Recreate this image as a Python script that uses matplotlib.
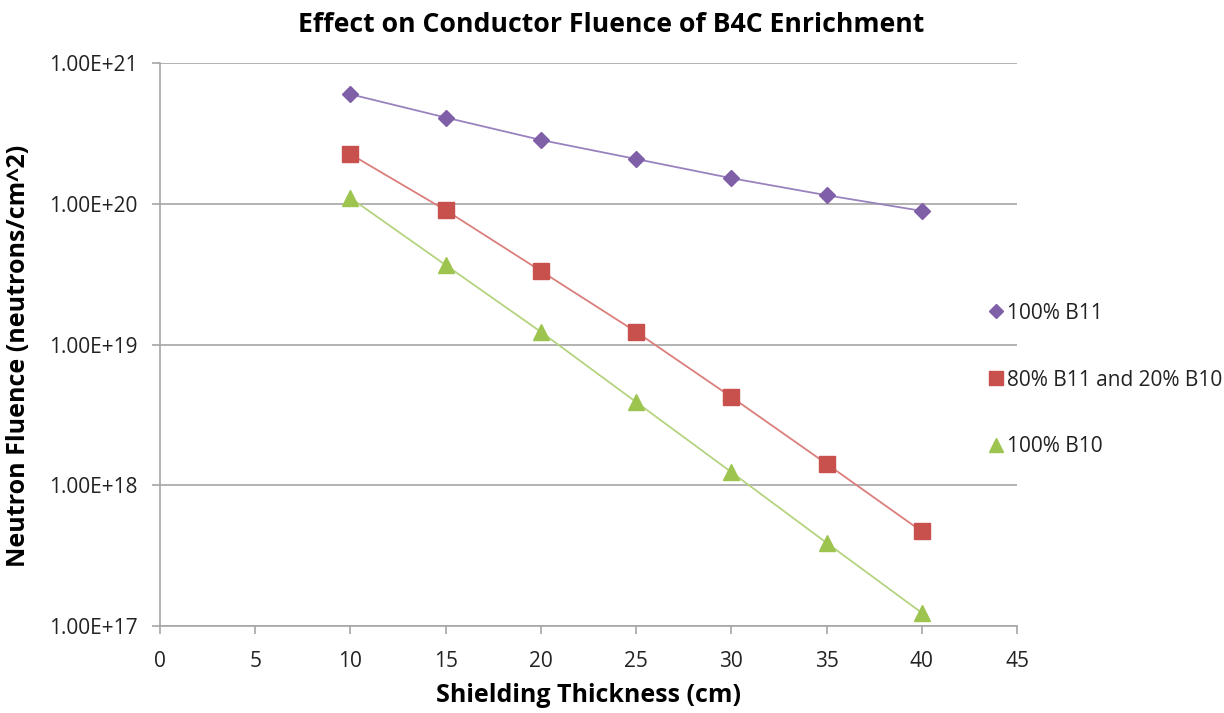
import numpy as np
import matplotlib
matplotlib.use("Agg")
import matplotlib.pyplot as plt
from matplotlib.lines import Line2D
from matplotlib.ticker import FixedLocator, FuncFormatter, NullLocator

plt.rcParams["font.family"] = ["Open Sans", "DejaVu Sans"]

# Shielding thickness (cm) and neutron fluence (neutrons/cm^2) per enrichment
thickness = [10, 15, 20, 25, 30, 35, 40]
fluence_b11 = [6.0e20, 4.1e20, 2.84e20, 2.08e20, 1.52e20, 1.15e20, 8.9e19]
fluence_mix = [2.25e20, 9.0e19, 3.33e19, 1.23e19, 4.24e18, 1.42e18, 4.7e17]
fluence_b10 = [1.1e20, 3.67e19, 1.23e19, 3.9e18, 1.24e18, 3.9e17, 1.24e17]

series_labels = ["100% B11", "80% B11 and 20% B10", "100% B10"]
series_colors = ["#7F5FA8", "#C8504D", "#9DC44F"]
line_colors = ["#9A82BF", "#DB7E7C", "#B4D47F"]
series_markers = ["D", "s", "^"]
marker_sizes = [8, 11, 11]

GRAY = "#A6A6A6"

fig = plt.figure(figsize=(12.24, 7.13), dpi=100)
ax = fig.add_axes([0.1307, 0.122, 0.7002, 0.7896])

for y, lc, mc, m, ms in zip([fluence_b11, fluence_mix, fluence_b10],
                            line_colors, series_colors, series_markers, marker_sizes):
    ax.plot(thickness, y, color=lc, lw=1.3, zorder=2)
    ax.plot(thickness, y, ls="none", marker=m, ms=ms, color=mc,
            markeredgecolor=mc, zorder=3)

ax.set_yscale("log")
ax.set_xlim(0, 45)
ax.set_ylim(1e17, 1e21)
ax.xaxis.set_major_locator(FixedLocator(np.arange(0, 46, 5)))
ax.yaxis.set_major_locator(FixedLocator([1e17, 1e18, 1e19, 1e20, 1e21]))
ax.yaxis.set_minor_locator(NullLocator())
ax.yaxis.set_major_formatter(FuncFormatter(
    lambda v, _: f"1.00E+{int(round(np.log10(v)))}"))

ax.grid(axis="y", color=GRAY, lw=1.2)
ax.set_axisbelow(True)
for side in ["top", "right"]:
    ax.spines[side].set_visible(False)
for side in ["left", "bottom"]:
    ax.spines[side].set_color(GRAY)
    ax.spines[side].set_linewidth(1.2)
ax.tick_params(axis="both", which="major", length=6, width=1.2, color=GRAY,
               labelsize=15, labelcolor="#222222")
ax.tick_params(axis="x", pad=12)
ax.tick_params(axis="y", pad=10)

ax.set_title("Effect on Conductor Fluence of B4C Enrichment",
             fontsize=19.2, fontweight="bold", pad=22, x=0.526)
ax.set_xlabel("Shielding Thickness (cm)", fontsize=18, fontweight="bold",
              labelpad=8)
ax.set_ylabel("Neutron Fluence (neutrons/cm^2)", fontsize=18,
              fontweight="bold", labelpad=10)
ax.yaxis.set_label_coords(-0.15, 0.48)

handles = [Line2D([], [], ls="none", marker=m, ms=ms * 0.9, color=c)
           for m, ms, c in zip(series_markers, marker_sizes, series_colors)]
fig.legend(handles, series_labels, loc="center left",
           bbox_to_anchor=(0.793, 0.467), frameon=False, fontsize=15,
           labelspacing=2.2, handlelength=0.6, handletextpad=0.25,
           labelcolor="#222222")

fig.savefig("out.png", dpi=100)
